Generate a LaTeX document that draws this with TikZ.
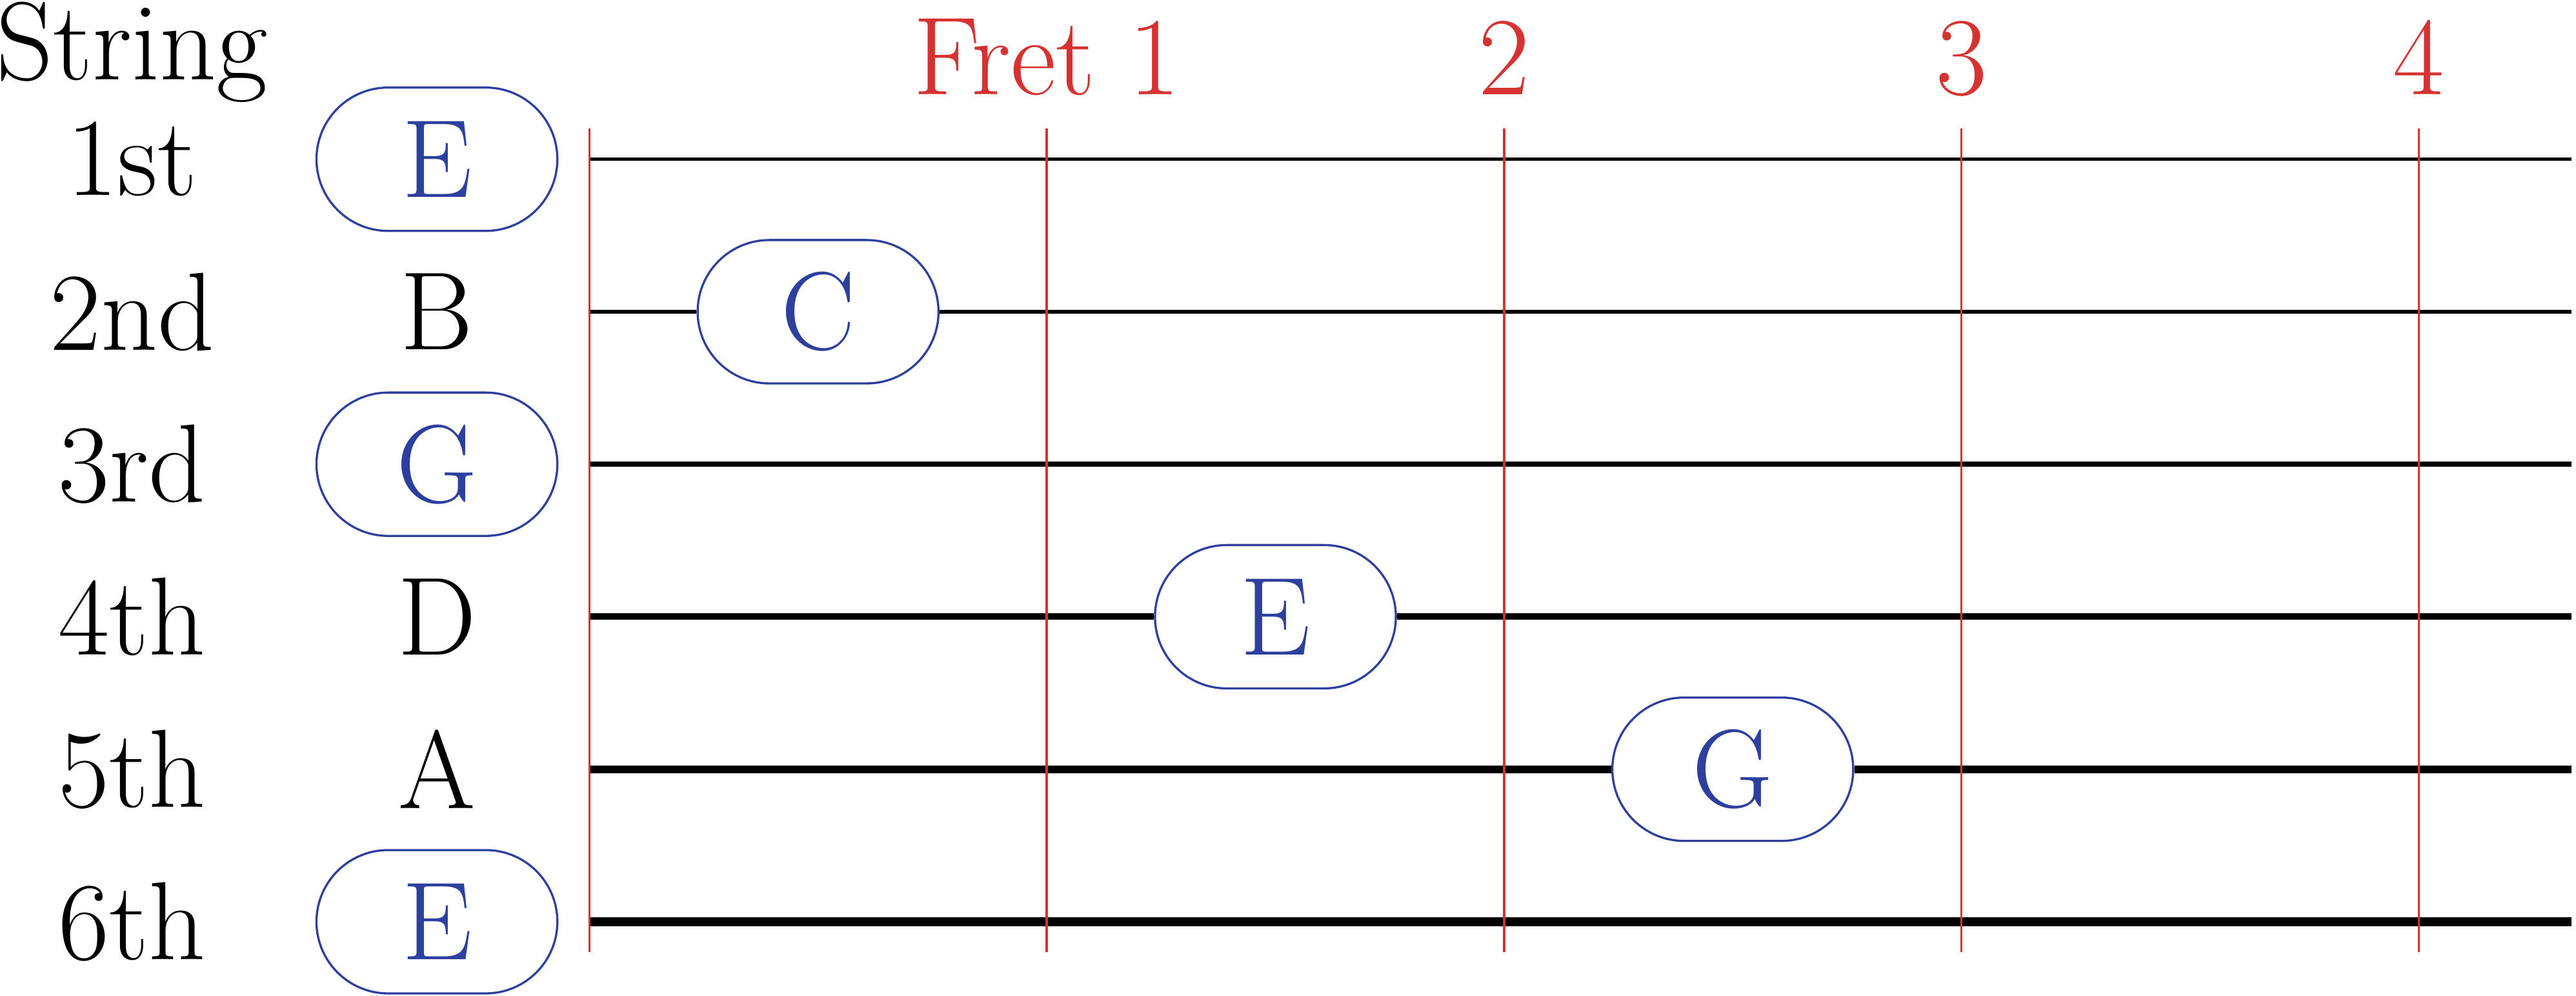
\documentclass[tikz,border=0pt]{standalone}
\usepackage{tikz}

\definecolor{fretred}{RGB}{214,50,50}
\definecolor{noteblue}{RGB}{46,64,158}

\tikzstyle{stringlabel} = [text centered]
\tikzstyle{note} = [rectangle, rounded corners=0.47cm, minimum width=1.58cm, minimum height=0.94cm, text centered, draw=noteblue, text=noteblue, fill=white]
\tikzstyle{fret} = [draw=fretred]
\tikzstyle{fretlabel} = [anchor=base, text=fretred]
\tikzstyle{gauge1} = [line width=0.6pt]
\tikzstyle{gauge2} = [line width=0.8pt]
\tikzstyle{gauge3} = [line width=1.0pt]
\tikzstyle{gauge4} = [line width=1.2pt]
\tikzstyle{gauge5} = [line width=1.4pt]
\tikzstyle{gauge6} = [line width=1.6pt]

\begin{document}
\begin{tikzpicture}[font=\huge]
	\useasboundingbox (-3.866,-6.483) rectangle (13.031,0.044);

	% string names and open notes
	\node (title) [anchor=base] at (-3,-0.48) {String};
	\node (s1) [stringlabel] at (-3,-1) {1st};
	\node (s2) [stringlabel, below of=s1] {2nd};
	\node (s3) [stringlabel, below of=s2] {3rd};
	\node (s4) [stringlabel, below of=s3] {4th};
	\node (s5) [stringlabel, below of=s4] {5th};
	\node (s6) [stringlabel, below of=s5] {6th};

	\node (o1) [note, right of=s1, xshift=1cm] {E};
	\node (o2) [stringlabel, right of=s2, xshift=1cm] {B};
	\node (o3) [note, right of=s3, xshift=1cm] {G};
	\node (o4) [stringlabel, right of=s4, xshift=1cm] {D};
	\node (o5) [stringlabel, right of=s5, xshift=1cm] {A};
	\node (o6) [note, right of=s6, xshift=1cm] {E};

	% nut and string ends
	\coordinate (n1) at (0,-1);
	\coordinate (n2) at (0,-2);
	\coordinate (n3) at (0,-3);
	\coordinate (n4) at (0,-4);
	\coordinate (n5) at (0,-5);
	\coordinate (n6) at (0,-6);
	\coordinate (e1) at (13,-1);
	\coordinate (e2) at (13,-2);
	\coordinate (e3) at (13,-3);
	\coordinate (e4) at (13,-4);
	\coordinate (e5) at (13,-5);
	\coordinate (e6) at (13,-6);

	% fretted notes
	\node (c2) [note] at (1.5,-2) {C};
	\node (e4n) [note] at (4.5,-4) {E};
	\node (g5) [note] at (7.5,-5) {G};

	% strings
	\draw [gauge1] (n1) -- (e1);
	\draw [gauge2] (n2) -- (c2);
	\draw [gauge2] (c2) -- (e2);
	\draw [gauge3] (n3) -- (e3);
	\draw [gauge4] (n4) -- (e4n);
	\draw [gauge4] (e4n) -- (e4);
	\draw [gauge5] (n5) -- (g5);
	\draw [gauge5] (g5) -- (e5);
	\draw [gauge6] (n6) -- (e6);

	% nut and frets
	\coordinate (t0) at (0,-0.8);
	\coordinate (b0) at (0,-6.2);
	\coordinate (t1) at (3,-0.8);
	\coordinate (b1) at (3,-6.2);
	\coordinate (t2) at (6,-0.8);
	\coordinate (b2) at (6,-6.2);
	\coordinate (t3) at (9,-0.8);
	\coordinate (b3) at (9,-6.2);
	\coordinate (t4) at (12,-0.8);
	\coordinate (b4) at (12,-6.2);
	\draw [fret] (t0) -- (b0);
	\draw [fret] (t1) -- (b1);
	\draw [fret] (t2) -- (b2);
	\draw [fret] (t3) -- (b3);
	\draw [fret] (t4) -- (b4);

	\node (f1) [fretlabel] at (3,-0.574) {Fret 1};
	\node (f2) [fretlabel] at (6,-0.574) {2};
	\node (f3) [fretlabel] at (9,-0.574) {3};
	\node (f4) [fretlabel] at (12,-0.574) {4};
\end{tikzpicture}
\end{document}
